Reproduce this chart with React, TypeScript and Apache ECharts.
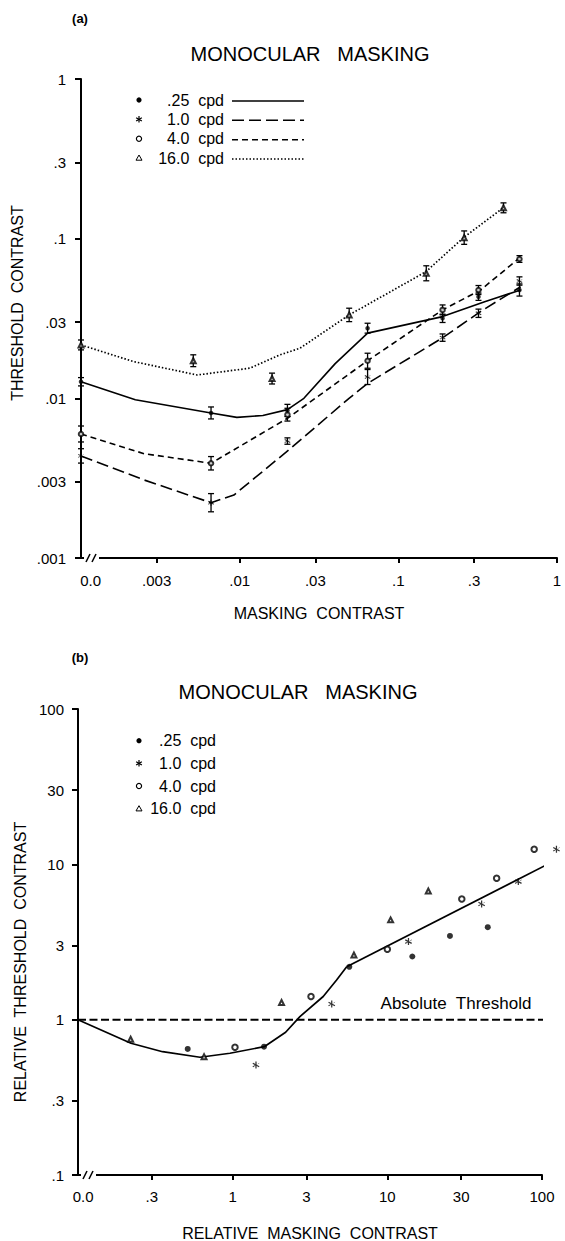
import React, { useEffect, useRef } from "react";
import * as echarts from "echarts";

const FONT = "'Liberation Sans', Arial, Helvetica, sans-serif";

// ---------------- Panel (a): threshold contrast vs masking contrast ----------------
const CPD = [".25", "1.0", "4.0", "16.0"];
const A_ZERO = 0.001; // "0.0" masking contrast, drawn on the vertical axis
const A_X_MAIN = [A_ZERO, 0.0066, 0.02, 0.064, 0.19, 0.32, 0.58];
const A_X_16 = [A_ZERO, 0.0051, 0.016, 0.049, 0.15, 0.26, 0.46];
const A_Y_025 = [0.0127, 0.0081, 0.0084, 0.0275, 0.0317, 0.0433, 0.0477];
const A_Y_10 = [0.00436, 0.00222, 0.0054, 0.0136, 0.024, 0.0341, 0.0543];
const A_Y_40 = [0.00598, 0.00392, 0.0079, 0.0172, 0.0358, 0.0477, 0.0746];
const A_Y_16 = [0.0216, 0.0172, 0.0133, 0.0333, 0.0607, 0.1015, 0.156];
// error bar half-lengths (log10 units)
const A_E_025 = [0.026, 0.0375, 0.038, 0.031, 0.026, 0.023, 0.038];
const A_E_10 = [0.045, 0.057, 0.02, 0.047, 0.023, 0.026, 0.026];
const A_E_40 = [0.05, 0.042, 0.04, 0.047, 0.031, 0.028, 0.021];
const A_E_16 = [0.031, 0.037, 0.034, 0.042, 0.047, 0.042, 0.031];
// fitted curves
const A_FIT_025 = [[0.001, 0.0127], [0.0022, 0.0098], [0.0066, 0.0081], [0.0096, 0.0076], [0.014, 0.0078], [0.02, 0.0085], [0.0254, 0.01], [0.04, 0.0165], [0.064, 0.0256], [0.19, 0.0325], [0.35, 0.0403], [0.59, 0.0477]];
const A_FIT_10 = [[0.001, 0.00436], [0.0025, 0.00308], [0.0066, 0.00222], [0.0092, 0.00248], [0.0204, 0.00475], [0.0489, 0.01], [0.0639, 0.0124], [0.191, 0.024], [0.327, 0.0348], [0.59, 0.05]];
const A_FIT_40 = [[0.001, 0.00598], [0.0025, 0.0045], [0.0066, 0.00392], [0.02, 0.0075], [0.064, 0.0172], [0.19, 0.0358], [0.33, 0.0477], [0.57, 0.0746]];
const A_FIT_16 = [[0.001, 0.0216], [0.00214, 0.017], [0.0054, 0.014], [0.0116, 0.01545], [0.0179, 0.0187], [0.024, 0.0206], [0.049, 0.0333], [0.149, 0.062], [0.2575, 0.1015], [0.458, 0.156]];
const A_X_TICKS = [0.003, 0.01, 0.03, 0.1, 0.3, 1];
const A_X_LABELS = [0.00115, 0.003, 0.01, 0.03, 0.1, 0.3, 1];
const A_Y_TICKS = [0.001, 0.003, 0.01, 0.03, 0.1, 0.3, 1];

// ---------------- Panel (b): relative threshold vs relative masking contrast ----------------
const B_PTS_025 = [[0.512, 0.648], [1.595, 0.67], [5.68, 2.19], [14.5, 2.55], [25.4, 3.46], [44.6, 3.94]];
const B_PTS_10 = [[1.415, 0.511], [4.37, 1.26], [13.7, 3.18], [40.7, 5.56], [70.3, 7.74], [124, 12.5]];
const B_PTS_40 = [[1.035, 0.664], [3.21, 1.41], [10.0, 2.84], [30.3, 5.98], [50.9, 8.14], [89, 12.5]];
const B_PTS_16 = [[0.219, 0.748], [0.653, 0.578], [2.07, 1.29], [6.08, 2.61], [10.5, 4.39], [18.4, 6.74]];
const B_FIT_CURVE = [[0.1, 1.0], [0.22, 0.705], [0.352, 0.622], [0.615, 0.573], [0.96, 0.608], [1.6, 0.67], [2.2, 0.83], [2.72, 1.045], [3.85, 1.41], [4.7, 1.8], [5.46, 2.19]];
const B_FIT_LINE = [[5.46, 2.19], [124, 10.7]];
const B_ABS_THRESHOLD = [[0.1, 1], [117, 1]];
const B_X_TICKS = [0.3, 1, 3, 10, 30, 100];
const B_X_LABELS = [0.108, 0.3, 1, 3, 10, 30, 100];
const B_Y_TICKS = [0.1, 0.3, 1, 3, 10, 30, 100];

const ASTERISK =
  "path://M0.83 2L1.17 2L1.17 0L0.83 0Z M1.781 1.647L1.951 1.353L0.219 0.353L0.049 0.647Z M0.049 1.353L0.219 1.647L1.951 0.353L1.781 0.647Z";

const fmt = (v: number) => {
  const s = String(v);
  return s.startsWith("0.") ? s.slice(1) : s;
};

const pair = (xs: number[], ys: number[]) => xs.map((x, i) => [x, ys[i]]);
const errData = (xs: number[], ys: number[], es: number[]) =>
  xs.map((x, i) => [x, ys[i] / Math.pow(10, es[i]), ys[i] * Math.pow(10, es[i])]);

const SYMBOLS = ["circle", ASTERISK, "emptyCircle", "emptyTriangle"];
const DASHES: any[] = ["solid", [12, 5], [6, 4], [1.5, 2]];

function errorSeries(name: string, data: number[][]) {
  return {
    name,
    type: "custom",
    xAxisIndex: 0,
    yAxisIndex: 0,
    clip: false,
    encode: { x: 0, y: [1, 2] },
    data,
    z: 3,
    renderItem: (_p: any, api: any) => {
      const x = api.value(0);
      const a = api.coord([x, api.value(1)]);
      const b = api.coord([x, api.value(2)]);
      const w = 3;
      const st = { stroke: "#000", lineWidth: 1.3 };
      return {
        type: "group",
        children: [
          { type: "line", shape: { x1: a[0], y1: a[1], x2: b[0], y2: b[1] }, style: st },
          { type: "line", shape: { x1: a[0] - w, y1: a[1], x2: a[0] + w, y2: a[1] }, style: st },
          { type: "line", shape: { x1: b[0] - w, y1: b[1], x2: b[0] + w, y2: b[1] }, style: st },
        ],
      };
    },
  };
}

function marker(kind: number, cx: number, cy: number): any[] {
  if (kind === 0) return [{ type: "circle", shape: { cx, cy, r: 2.6 }, style: { fill: "#000" } }];
  if (kind === 2)
    return [{ type: "circle", shape: { cx, cy, r: 2.6 }, style: { fill: "#fff", stroke: "#000", lineWidth: 1.2 } }];
  if (kind === 3)
    return [
      {
        type: "polygon",
        shape: { points: [[cx, cy - 3], [cx - 3, cy + 2.2], [cx + 3, cy + 2.2]] },
        style: { fill: "#fff", stroke: "#000", lineWidth: 1 },
      },
    ];
  const r = 3.3;
  return [90, 30, 150].map((deg) => {
    const t = (deg * Math.PI) / 180;
    return {
      type: "line",
      shape: { x1: cx - r * Math.cos(t), y1: cy - r * Math.sin(t), x2: cx + r * Math.cos(t), y2: cy + r * Math.sin(t) },
      style: { stroke: "#000", lineWidth: 1.2 },
    };
  });
}

function text(t: string, x: number, y: number, size: number, align = "center", weight = "normal", extra: any = {}) {
  return {
    type: "text",
    x,
    y,
    z: 50,
    style: {
      text: t,
      fill: "#000",
      font: `${weight} ${size}px ${FONT}`,
      textAlign: align,
      textVerticalAlign: "middle",
      align,
      verticalAlign: "middle",
      ...extra,
    },
  };
}

function axisCommon() {
  return {
    type: "log",
    logBase: 10,
    splitLine: { show: false },
    minorTick: { show: false },
    minorSplitLine: { show: false },
    axisLine: { show: true, onZero: false, lineStyle: { color: "#000", width: 2 } },
  };
}

export default function App() {
  const ref = useRef<HTMLDivElement>(null);

  useEffect(() => {
    document.body.style.margin = "0";
    if (!ref.current) return;
    const chart = echarts.init(ref.current, undefined, { renderer: "svg" });

    const labelStyle = { color: "#000", fontSize: 15, fontFamily: FONT };
    const nameStyle = { color: "#000", fontSize: 16, fontFamily: FONT };

    const aYs = [A_Y_025, A_Y_10, A_Y_40, A_Y_16];
    const aXs = [A_X_MAIN, A_X_MAIN, A_X_MAIN, A_X_16];
    const aEs = [A_E_025, A_E_10, A_E_40, A_E_16];
    const aFits = [A_FIT_025, A_FIT_10, A_FIT_40, A_FIT_16];
    const bPts = [B_PTS_025, B_PTS_10, B_PTS_40, B_PTS_16];
    const aSizes = [4.5, 6, 4.5, 5];
    const bSizes = [6, 7, 5.5, 5];

    const series: any[] = [];
    for (let i = 0; i < 4; i++) {
      series.push({
        name: CPD[i] + " cpd fit",
        type: "line",
        xAxisIndex: 0,
        yAxisIndex: 0,
        data: aFits[i],
        smooth: false,
        symbol: "none",
        clip: false,
        lineStyle: { color: "#000", width: i === 3 ? 1.7 : 1.6, type: DASHES[i], join: "round" },
        z: 2,
      });
      series.push({
        name: CPD[i] + " cpd",
        type: "scatter",
        xAxisIndex: 0,
        yAxisIndex: 0,
        data: pair(aXs[i], aYs[i]),
        symbol: SYMBOLS[i],
        symbolSize: aSizes[i],
        clip: false,
        itemStyle: { color: "#000", borderColor: "#000", borderWidth: i === 2 || i === 3 ? 0.9 : 0 },
        z: 4,
      });
      series.push(errorSeries(CPD[i] + " cpd error", errData(aXs[i], aYs[i], aEs[i])));
      series.push({
        name: CPD[i] + " cpd (relative)",
        type: "scatter",
        xAxisIndex: 1,
        yAxisIndex: 1,
        data: bPts[i],
        symbol: SYMBOLS[i],
        symbolSize: bSizes[i],
        clip: false,
        itemStyle: { color: "#000", borderColor: "#000", borderWidth: i === 2 ? 1.1 : i === 3 ? 0.8 : 0 },
        z: 4,
      });
    }
    series.push({
      name: "fit",
      type: "line",
      xAxisIndex: 1,
      yAxisIndex: 1,
      data: B_FIT_CURVE,
      smooth: false,
      symbol: "none",
      clip: false,
      lineStyle: { color: "#000", width: 1.7, join: "round" },
    });
    series.push({
      name: "fit line",
      type: "line",
      xAxisIndex: 1,
      yAxisIndex: 1,
      data: B_FIT_LINE,
      symbol: "none",
      clip: false,
      lineStyle: { color: "#000", width: 1.7 },
    });
    series.push({
      name: "Absolute Threshold",
      type: "line",
      xAxisIndex: 1,
      yAxisIndex: 1,
      data: B_ABS_THRESHOLD,
      symbol: "none",
      clip: false,
      lineStyle: { color: "#000", width: 2, type: [8, 3.5] },
    });

    const graphics: any[] = [];
    graphics.push(text("(a)", 80, 18, 13, "center", "bold"));
    graphics.push(text("(b)", 80, 657, 13, "center", "bold"));
    graphics.push(text("MONOCULAR   MASKING", 310, 54, 20));
    graphics.push(text("MONOCULAR   MASKING", 298, 692, 20));
    graphics.push(text("Absolute  Threshold", 456, 1003, 17));

    const topRows = [100, 119.3, 138.7, 158];
    const botRows = [740.7, 763.3, 786, 808.7];
    for (let i = 0; i < 4; i++) {
      graphics.push(...marker(i, 139, topRows[i]));
      graphics.push(text(CPD[i] + "  cpd", 224, topRows[i], 16, "right"));
      graphics.push({
        type: "line",
        z: 50,
        shape: { x1: 232, y1: topRows[i] + 1, x2: 304, y2: topRows[i] + 1 },
        style: {
          stroke: "#000",
          lineWidth: i === 3 ? 1.7 : 1.6,
          lineDash: i === 0 ? null : DASHES[i],
        },
      });
      graphics.push(...marker(i, 139, botRows[i]));
      graphics.push(text(CPD[i] + "  cpd", 216, botRows[i], 16, "right"));
    }
    // axis break marks
    const brk = (x0: number, y0: number) => [
      { type: "rect", z: 60, shape: { x: x0, y: y0 - 3, width: 15, height: 6 }, style: { fill: "#fff" } },
      { type: "line", z: 61, shape: { x1: x0 + 2, y1: y0 + 4, x2: x0 + 6, y2: y0 - 4 }, style: { stroke: "#000", lineWidth: 1.5 } },
      { type: "line", z: 61, shape: { x1: x0 + 8, y1: y0 + 4, x2: x0 + 12, y2: y0 - 4 }, style: { stroke: "#000", lineWidth: 1.5 } },
    ];
    graphics.push(...brk(84, 558));
    graphics.push(...brk(81, 1175));

    const option: any = {
      animation: false,
      backgroundColor: "#fff",
      grid: [
        { left: 81, top: 79, width: 476, height: 479, outerBoundsMode: "none", containLabel: false },
        { left: 78, top: 709, width: 464, height: 466, outerBoundsMode: "none", containLabel: false },
      ],
      xAxis: [
        {
          ...axisCommon(),
          gridIndex: 0,
          min: 0.001,
          max: 1,
          axisTick: { show: true, length: 5, customValues: A_X_TICKS, lineStyle: { color: "#000", width: 2 } },
          axisLabel: {
            ...labelStyle,
            margin: 15,
            customValues: A_X_LABELS,
            formatter: (v: number) => (v < 0.002 ? "0.0" : fmt(v)),
          },
          name: "MASKING  CONTRAST",
          nameLocation: "middle",
          nameGap: 47,
          nameTextStyle: nameStyle,
        },
        {
          ...axisCommon(),
          gridIndex: 1,
          min: 0.1,
          max: 100,
          axisTick: { show: true, length: 5, customValues: B_X_TICKS, lineStyle: { color: "#000", width: 2 } },
          axisLabel: {
            ...labelStyle,
            margin: 14,
            customValues: B_X_LABELS,
            formatter: (v: number) => (v < 0.2 ? "0.0" : fmt(v)),
          },
          name: "RELATIVE  MASKING  CONTRAST",
          nameLocation: "middle",
          nameGap: 50,
          nameTextStyle: nameStyle,
        },
      ],
      yAxis: [
        {
          ...axisCommon(),
          gridIndex: 0,
          min: 0.001,
          max: 1,
          axisTick: { show: true, length: 6, customValues: A_Y_TICKS, lineStyle: { color: "#000", width: 2 } },
          axisLabel: { ...labelStyle, margin: 15, customValues: A_Y_TICKS, formatter: fmt },
          name: "THRESHOLD  CONTRAST",
          nameLocation: "middle",
          nameGap: 50,
          nameTextStyle: { ...nameStyle, padding: [0, 0, 0, 31] },
        },
        {
          ...axisCommon(),
          gridIndex: 1,
          min: 0.1,
          max: 100,
          axisTick: { show: true, length: 6, customValues: B_Y_TICKS, lineStyle: { color: "#000", width: 2 } },
          axisLabel: { ...labelStyle, margin: 14, customValues: B_Y_TICKS, formatter: fmt },
          name: "RELATIVE  THRESHOLD  CONTRAST",
          nameLocation: "middle",
          nameGap: 49,
          nameTextStyle: { ...nameStyle, padding: [0, 40, 0, 0] },
        },
      ],
      graphic: { elements: graphics },
      series,
    };

    chart.setOption(option);
    return () => chart.dispose();
  }, []);

  return <div ref={ref} style={{ width: 565, height: 1241 }} />;
}
